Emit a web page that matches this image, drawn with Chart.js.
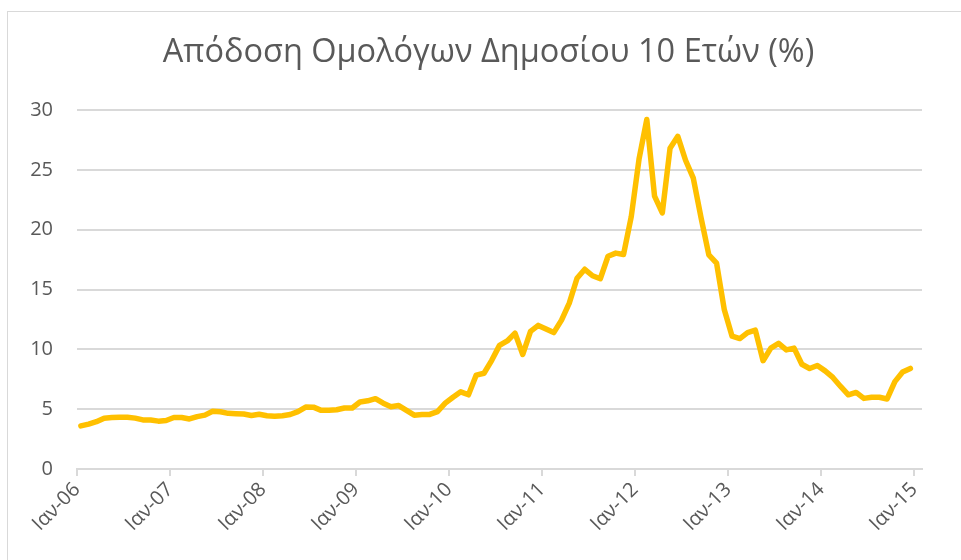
<!DOCTYPE html>
<html>
<head>
<meta charset="utf-8">
<script src="https://cdn.jsdelivr.net/npm/chart.js@4.4.1/dist/chart.umd.min.js"></script>
<style>
  html, body { margin: 0; padding: 0; background: #fff; overflow: hidden; }
  #wrap { position: relative; width: 961px; height: 560px; }
  #frame {
    position: absolute; left: 7px; top: 11px; width: 1000px; height: 600px;
    border: 1.5px solid #d9d9d9; box-sizing: border-box;
  }
  #title {
    position: absolute; left: 16px; top: 34px; width: 945px;
    text-align: center; white-space: nowrap;
    font: 32.5px/32.5px 'Open Sans', 'Noto Sans', sans-serif; color: #595959;
  }
  #yieldChart { position: absolute; left: 0; top: 0; }
</style>
</head>
<body>
<div id="wrap">
  <div id="frame"></div>
  <canvas id="yieldChart" width="961" height="560"></canvas>
  <div id="title"></div>
</div>
<script>
// Monthly 10-year government bond yield (%), Jan..Dec of each year
const y2006 = [3.6, 3.75, 3.95, 4.25, 4.3, 4.32, 4.33, 4.25, 4.1, 4.1, 4.0, 4.05];
const y2007 = [4.3, 4.3, 4.18, 4.38, 4.5, 4.82, 4.78, 4.65, 4.62, 4.6, 4.47, 4.57];
const y2008 = [4.45, 4.4, 4.45, 4.55, 4.8, 5.18, 5.17, 4.9, 4.9, 4.95, 5.1, 5.1];
const y2009 = [5.6, 5.7, 5.88, 5.5, 5.2, 5.3, 4.9, 4.5, 4.55, 4.56, 4.8, 5.5];
const y2010 = [6.0, 6.45, 6.2, 7.85, 8.0, 9.08, 10.33, 10.7, 11.35, 9.57, 11.5, 12.0];
const y2011 = [11.7, 11.4, 12.44, 13.86, 15.94, 16.69, 16.15, 15.9, 17.78, 18.04, 17.92, 21.1];
const y2012 = [25.9, 29.2, 22.8, 21.4, 26.8, 27.8, 25.8, 24.3, 21.0, 17.9, 17.2, 13.3];
const y2013 = [11.1, 10.9, 11.4, 11.6, 9.05, 10.1, 10.5, 9.95, 10.1, 8.75, 8.4, 8.65];
const y2014 = [8.2, 7.65, 6.9, 6.2, 6.4, 5.9, 6.0, 6.0, 5.85, 7.3, 8.1, 8.4];

const yearLabels = ["Ιαν-06", "Ιαν-07", "Ιαν-08", "Ιαν-09", "Ιαν-10", "Ιαν-11", "Ιαν-12", "Ιαν-13", "Ιαν-14", "Ιαν-15"];
const yTicks = [0, 5, 10, 15, 20, 25, 30];

const titleText = "Απόδοση Ομολόγων Δημοσίου 10 Ετών (%)";

const monthly = [].concat(y2006, y2007, y2008, y2009, y2010, y2011, y2012, y2013, y2014);
// x in months since Jan-06, each monthly value sits mid-month
const points = monthly.map((v, i) => ({ x: i + 0.5, y: v }));

const textColor = "#595959";
const ruleColor = "#d9d9d9";
const font = "'Open Sans', 'Noto Sans', sans-serif";

// title is centred on the frame, not on the plot area
document.getElementById("title").textContent = titleText;

new Chart(document.getElementById("yieldChart"), {
  type: "line",
  data: {
    datasets: [{
      label: "Απόδοση",
      data: points,
      borderColor: "#FFC000",
      backgroundColor: "#FFC000",
      borderWidth: 5.5,
      borderJoinStyle: "round",
      borderCapStyle: "round",
      pointRadius: 0,
      tension: 0,
      fill: false
    }]
  },
  options: {
    responsive: false,
    animation: false,
    layout: { padding: { top: 110, right: 39, bottom: 0, left: 0 } },
    plugins: {
      legend: { display: false },
      tooltip: { enabled: false },
      title: { display: false }
    },
    scales: {
      x: {
        type: "linear",
        min: 0,
        max: 109,
        afterBuildTicks: (scale) => {
          scale.ticks = yearLabels.map((_, i) => ({ value: i * 12 }));
        },
        afterFit: (scale) => { scale.height = 91; },
        grid: {
          drawOnChartArea: false,
          drawTicks: true,
          tickLength: 7,
          tickColor: ruleColor,
          lineWidth: 2
        },
        border: { color: ruleColor, width: 2 },
        ticks: {
          autoSkip: false,
          minRotation: 45,
          maxRotation: 45,
          padding: 2,
          color: textColor,
          font: { family: font, size: 20 },
          callback: (val) => yearLabels[Math.round(val / 12)]
        }
      },
      y: {
        min: 0,
        max: 30,
        afterBuildTicks: (scale) => {
          scale.ticks = yTicks.map((v) => ({ value: v }));
        },
        afterFit: (scale) => { scale.width = 77; },
        grid: { color: ruleColor, lineWidth: 2, drawTicks: false },
        border: { display: false },
        ticks: {
          padding: 24,
          color: textColor,
          font: { family: font, size: 20 }
        }
      }
    }
  }
});
</script>
</body>
</html>
